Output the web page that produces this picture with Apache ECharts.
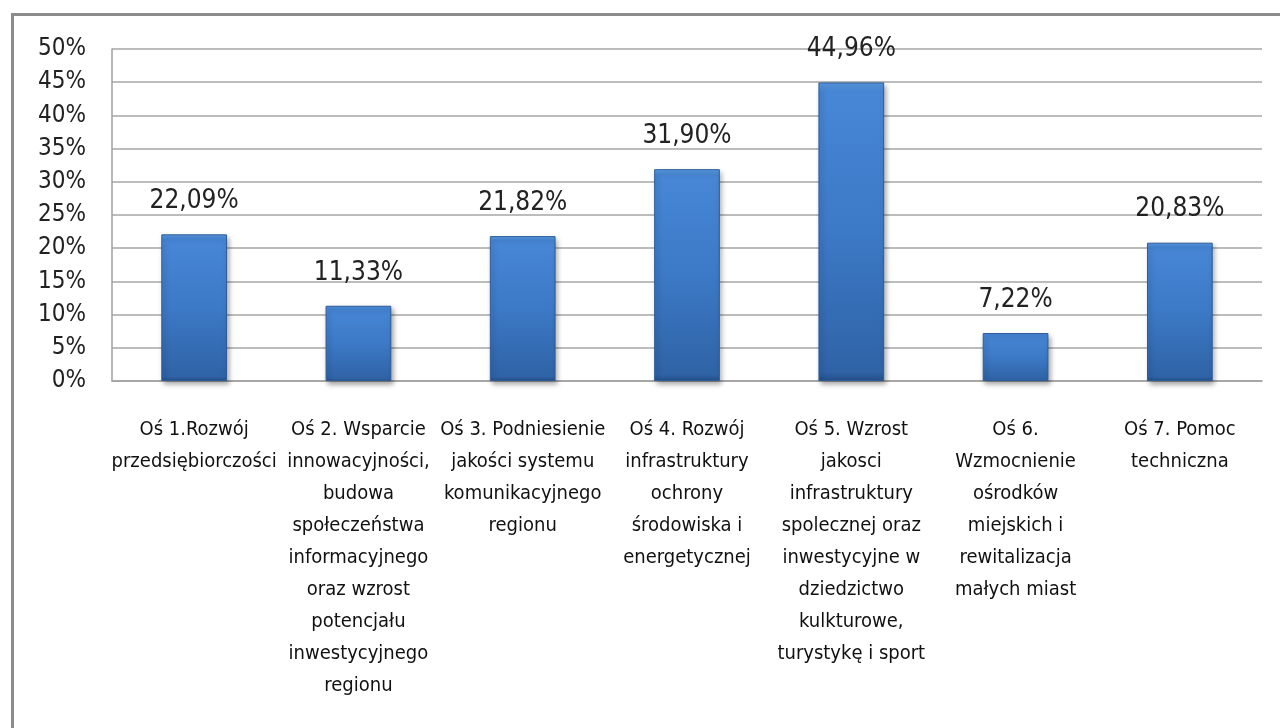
<!DOCTYPE html>
<html>
<head>
<meta charset="utf-8">
<script src="https://cdn.jsdelivr.net/npm/echarts@6/dist/echarts.min.js"></script>
<style>
html,body{margin:0;padding:0;background:#fff;}
#chart{width:1280px;height:728px;}
</style>
</head>
<body>
<div id="chart"></div>
<script>
const categories = [
  "Oś 1.Rozwój\nprzedsiębiorczości",
  "Oś 2. Wsparcie\ninnowacyjności,\nbudowa\nspołeczeństwa\ninformacyjnego\noraz wzrost\npotencjału\ninwestycyjnego\nregionu",
  "Oś 3. Podniesienie\njakości systemu\nkomunikacyjnego\nregionu",
  "Oś 4. Rozwój\ninfrastruktury\nochrony\nśrodowiska i\nenergetycznej",
  "Oś 5. Wzrost\njakosci\ninfrastruktury\nspolecznej oraz\ninwestycyjne w\ndziedzictwo\nkulkturowe,\nturystykę i sport",
  "Oś 6.\nWzmocnienie\nośrodków\nmiejskich i\nrewitalizacja\nmałych miast",
  "Oś 7. Pomoc\ntechniczna"
];
const values = [22.09, 11.33, 21.82, 31.90, 44.96, 7.22, 20.83];
const yTicks = {min: 0, max: 50, interval: 5};

const FONT = "'Liberation Sans Narrow', 'Arial Narrow', 'DejaVu Sans Condensed', sans-serif";
const chart = echarts.init(document.getElementById('chart'));
chart.setOption({
  backgroundColor: '#ffffff',
  animation: false,
  graphic: [{
    type: 'rect', left: 10, top: 12, z: -1,
    shape: {width: 1300, height: 800},
    style: {fill: 'none', stroke: '#8c8c8c', lineWidth: 3}
  }],
  grid: {left: 112, right: 18, top: 49, bottom: 347, containLabel: false},
  xAxis: {
    type: 'category',
    data: categories,
    axisLine: {show: true, lineStyle: {color: '#a0a0a0', width: 1.5}},
    axisTick: {show: false},
    axisLabel: {
      interval: 0, margin: 33, fontFamily: FONT, fontSize: 20,
      lineHeight: 32, color: '#111', align: 'center'
    }
  },
  yAxis: {
    type: 'value',
    min: yTicks.min, max: yTicks.max, interval: yTicks.interval,
    axisLine: {show: true, lineStyle: {color: '#a0a0a0', width: 1.5}},
    axisTick: {show: false},
    splitLine: {lineStyle: {color: '#a6a6a6', width: 1.5}},
    axisLabel: {
      formatter: '{value}%', margin: 26, fontFamily: FONT, fontSize: 24, color: '#222'
    }
  },
  series: [{
    type: 'bar',
    data: values,
    barWidth: '40%',
    itemStyle: {
      color: new echarts.graphic.LinearGradient(0, 0, 0, 1, [
        {offset: 0, color: '#5a9be3'},
        {offset: 0.03, color: '#4787d6'},
        {offset: 0.5, color: '#3c79c6'},
        {offset: 0.97, color: '#2f63a6'},
        {offset: 1, color: '#244f88'}
      ]),
      borderColor: '#2c5c99',
      borderWidth: 1,
      shadowColor: 'rgba(0,0,0,0.35)',
      shadowBlur: 5,
      shadowOffsetX: 2,
      shadowOffsetY: 3
    },
    label: {
      show: true, position: 'top', distance: 20,
      fontFamily: FONT, fontSize: 26, color: '#222',
      formatter: p => p.value.toFixed(2).replace('.', ',') + '%'
    }
  }]
});
</script>
</body>
</html>
